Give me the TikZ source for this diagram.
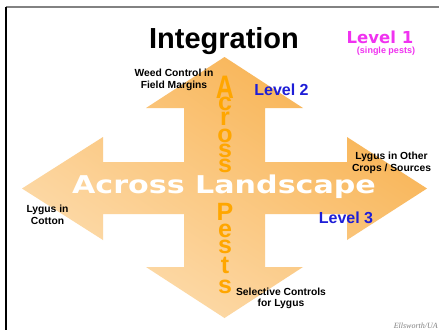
\documentclass[tikz,border=0pt]{standalone}
\usepackage{fontspec}
\usetikzlibrary{shadings}
\setmainfont{Liberation Sans}
\newfontfamily\dvs{DejaVu Sans}
\newfontfamily\libserif{Liberation Serif}
\definecolor{lvlblue}{RGB}{30,30,215}
\definecolor{lvlmag}{RGB}{240,50,240}
\definecolor{pestorange}{RGB}{255,166,0}
\definecolor{arUR}{RGB}{246,168,58}
\definecolor{arUL}{RGB}{251,200,130}
\definecolor{arLR}{RGB}{251,200,130}
\definecolor{arLL}{RGB}{254,230,195}
\definecolor{topline}{RGB}{130,130,130}
\begin{document}
\begin{tikzpicture}[x=1pt,y=-1pt,
  small/.style={font=\bfseries\fontsize{10.3}{12}\selectfont, inner sep=0pt, anchor=base},
  lvl/.style={font=\bfseries\fontsize{16}{18}\selectfont, text=lvlblue, inner sep=0pt, anchor=base},
  vlet/.style={font=\bfseries\fontsize{25}{25}\selectfont, text=pestorange, inner sep=0pt, anchor=base}]
\useasboundingbox (0,0) rectangle (439,330);
\fill[white] (0,0) rectangle (439,330);
% frame
\draw[topline, line width=1.5pt] (5.5,7) -- (439,7);
\draw[black, line width=1.5pt] (6,6.5) -- (6,330);
% cross arrow
\shade[upper left=arUL, upper right=arUR, lower left=arLL, lower right=arLR]
  (224.5,57) -- (303,108) -- (265,108) -- (265,162) -- (347,162) -- (347,137)
  -- (427,188.5) -- (347,240) -- (347,214) -- (265,214) -- (265,267) -- (303,267)
  -- (224.5,318) -- (146,267) -- (184,267) -- (184,214) -- (103,214) -- (103,240)
  -- (22,188.5) -- (103,137) -- (103,162) -- (184,162) -- (184,108) -- (146,108) -- cycle;
% title
\node[font=\bfseries\fontsize{29}{30}\selectfont, inner sep=0pt, anchor=base] (title) at (224,48) {Integration};
\node[font=\dvs\bfseries\fontsize{16.5}{18}\selectfont, text=lvlmag, inner sep=0pt, anchor=base] (l1) at (380,43) {Level 1};
\node[font=\bfseries\fontsize{9}{10}\selectfont, text=lvlmag, inner sep=0pt, anchor=base] (l1b) at (386,53.5) {(single pests)};
% labels
\node[small] (weed1) at (174,76) {Weed Control in};
\node[small] (weed2) at (174,88) {Field Margins};
\node[lvl] (l2) at (281.5,95) {Level 2};
\node[small] (oth1) at (391.5,159) {Lygus in Other};
\node[small] (oth2) at (391.5,171) {Crops / Sources};
\node[small] (cot1) at (47.5,212) {Lygus in};
\node[small] (cot2) at (47.5,224) {Cotton};
\node[lvl] (l3) at (346,223) {Level 3};
\node[small] (sel1) at (281,295) {Selective Controls};
\node[small] (sel2) at (281,306) {for Lygus};
% across landscape
\node[font=\dvs\bfseries\fontsize{24.5}{26}\selectfont, text=white, inner sep=0pt, anchor=base] (land) at (224,193) {\scalebox{1.23}[1]{Across Landscape}};
% across pests (vertical)
\node[vlet] (pA) at (225,98) {\scalebox{1}[1.3]{A}};
\node[vlet] (pc) at (225,110) {c};
\node[vlet] (pr) at (225,125) {r};
\node[vlet] (po) at (225,142) {o};
\node[vlet] (ps1) at (225,157) {s};
\node[vlet] (ps2) at (225,172) {s};
\node[vlet] (pP) at (225,220) {P};
\node[vlet] (pe) at (225,237) {e};
\node[vlet] (ps3) at (225,253) {s};
\node[vlet] (pt) at (225,273) {t};
\node[vlet] (ps4) at (225,293) {s};
% credit
\node[font=\libserif\itshape\fontsize{8}{9}\selectfont, text=gray, inner sep=0pt, anchor=base east] (cred) at (438,328) {Ellsworth/UA};
\end{tikzpicture}
\end{document}
